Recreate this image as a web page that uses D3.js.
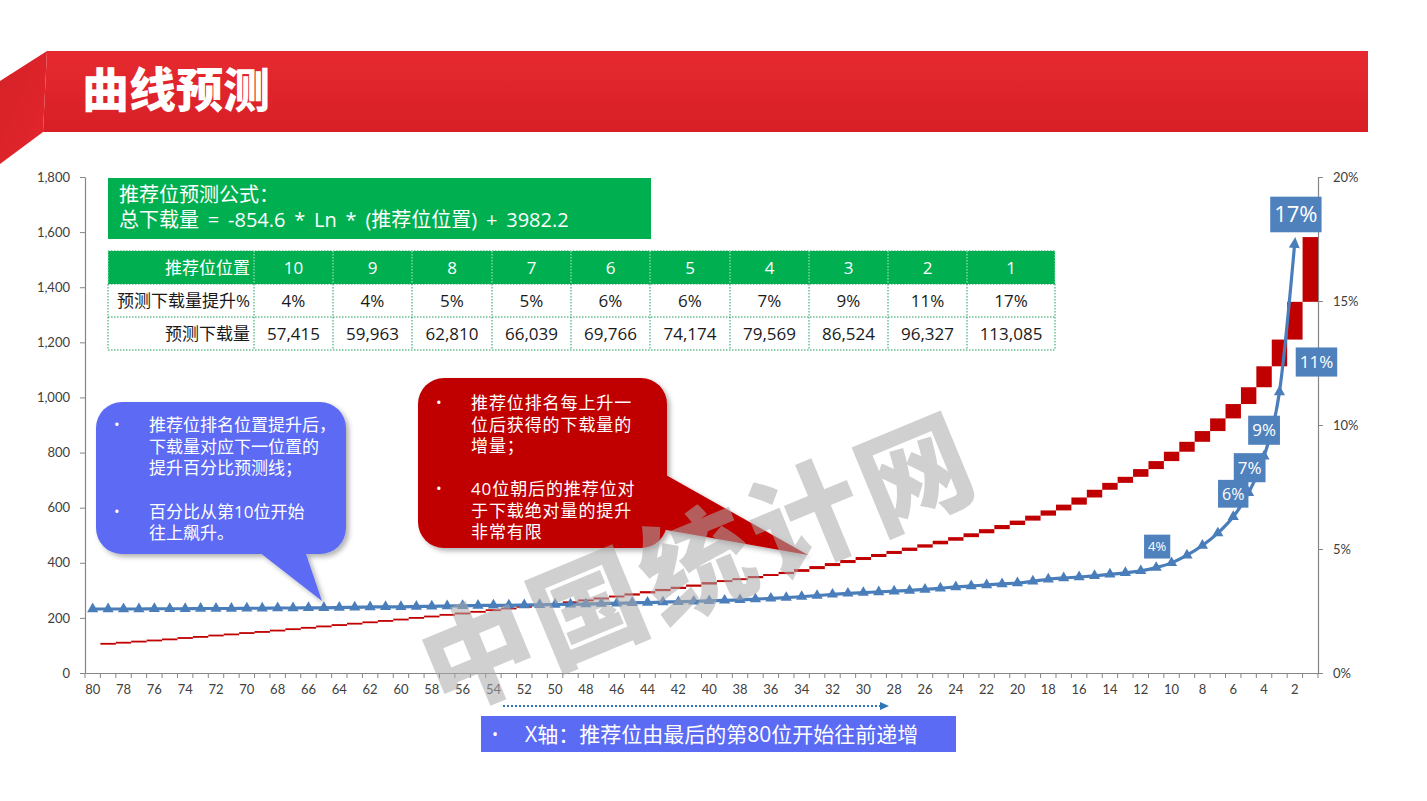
<!DOCTYPE html>
<html><head><meta charset="utf-8">
<script src="https://cdn.jsdelivr.net/npm/d3@7"></script>
<style>
html,body{margin:0;padding:0;background:#fff;}
svg{display:block;}
</style></head>
<body><svg id="c" width="1427" height="801"></svg>
<script>
// ---------------- data ----------------
const categories = [80,79,78,77,76,75,74,73,72,71,70,69,68,67,66,65,64,63,62,61,
  60,59,58,57,56,55,54,53,52,51,50,49,48,47,46,45,44,43,42,41,
  40,39,38,37,36,35,34,33,32,31,30,29,28,27,26,25,24,23,22,21,
  20,19,18,17,16,15,14,13,12,11,10,9,8,7,6,5,4,3,2,1];
// download level reached at each position (left axis), positions 80 -> 1
const downloadLevel = [102,106,110,114,118,122,127,131,136,140,
  145,149,154,159,164,169,174,179,184,189,
  194,200,205,211,216,222,228,234,240,246,
  253,260,267,274,281,289,297,305,313,321,
  330,337,344,352,359,367,377,388,399,410,
  421,432,443,455,467,480,493,507,522,537,
  553,571,590,611,637,665,690,712,740,769,
  803,839,878,924,976,1037,1113,1210,1347,1582];
const downloadStart = 102; // level before position 80 (no step shown at 80)
// lift % to the next position (right axis), positions 80 -> 2
const liftPct = [2.58,2.58,2.58,2.58,2.59,2.59,2.59,2.60,2.60,2.60,
  2.61,2.61,2.62,2.62,2.63,2.63,2.64,2.65,2.66,2.67,
  2.67,2.68,2.69,2.70,2.71,2.72,2.73,2.73,2.74,2.75,
  2.76,2.77,2.78,2.80,2.81,2.83,2.84,2.86,2.87,2.89,
  2.91,2.93,2.95,2.98,3.01,3.04,3.08,3.12,3.17,3.21,
  3.24,3.27,3.30,3.33,3.37,3.42,3.47,3.51,3.55,3.59,
  3.63,3.70,3.78,3.83,3.87,3.92,3.98,4.04,4.12,4.25,
  4.44,4.75,5.14,5.64,6.30,7.27,8.74,11.33,17.40];
const leftTicks = [0,200,400,600,800,1000,1200,1400,1600,1800];
const rightTicks = [0,0.05,0.10,0.15,0.20];
const xLabelCats = categories.filter(c => c % 2 === 0);

const tableHead = ["推荐位位置","10","9","8","7","6","5","4","3","2","1"];
const tableLiftLabel = "预测下载量提升%";
const tableLift = ["4%","4%","5%","5%","6%","6%","7%","9%","11%","17%"];
const tableDlLabel = "预测下载量";
const tableDownloads = [57415,59963,62810,66039,69766,74174,79569,86524,96327,113085];

const titleText = "曲线预测";
const formulaLines = ["推荐位预测公式：","总下载量 = -854.6 * Ln * (推荐位位置) + 3982.2"];
const blueNote = [["•","推荐位排名位置提升后，"],["","下载量对应下一位置的"],["","提升百分比预测线；"],["•","百分比从第10位开始"],["","往上飙升。"]];
const redNote = [["•","推荐位排名每上升一"],["","位后获得的下载量的"],["","增量；"],["•","40位朝后的推荐位对"],["","于下载绝对量的提升"],["","非常有限"]];
const xNote = "X轴：推荐位由最后的第80位开始往前递增";
const watermarkChars = ["中","国","统","计","网"];

// labelled points of the lift line (layout offsets only)
const liftLabels = [
  {cat:11, size:13, dx:1, dy:-21},
  {cat:6, size:16, dx:0, dy:-23},
  {cat:5, size:17, dx:1, dy:-25},
  {cat:4, size:17, dx:0, dy:-26},
  {cat:3, size:17, dx:37, dy:-30},
  {cat:2, size:22, dx:1, dy:-27}
];

// ---------------- setup ----------------
const FONT = "'Open Sans','Noto Sans CJK SC',sans-serif";
const CJK = "'Noto Sans CJK SC','Open Sans',sans-serif";
const AX = "Lato,'Open Sans',sans-serif";
const svg = d3.select("#c");
const defs = svg.append("defs");

const x = d3.scaleBand().domain(categories).range([85, 1318]).padding(0);
const yL = d3.scaleLinear().domain([0,1800]).range([673,177]);
const yR = d3.scaleLinear().domain([0,0.20]).range([673,177]);

const g1 = defs.append("linearGradient").attr("id","bn").attr("x1",0).attr("y1",0).attr("x2",0).attr("y2",1);
g1.append("stop").attr("offset","0%").attr("stop-color","#E62A30");
g1.append("stop").attr("offset","100%").attr("stop-color","#D81F26");
const g2 = defs.append("linearGradient").attr("id","bl").attr("x1",0).attr("y1",0).attr("x2",1).attr("y2",1);
g2.append("stop").attr("offset","0%").attr("stop-color","#D42127");
g2.append("stop").attr("offset","100%").attr("stop-color","#E4262D");
const f = defs.append("filter").attr("id","sh").attr("x","-10%").attr("y","-10%").attr("width","130%").attr("height","130%");
f.append("feDropShadow").attr("dx",3).attr("dy",3).attr("stdDeviation",2.5).attr("flood-color","#000").attr("flood-opacity",0.3);
defs.append("marker").attr("id","arr").attr("viewBox","0 0 10 10").attr("refX",6).attr("refY",5)
  .attr("markerWidth",11).attr("markerHeight",11).attr("markerUnits","userSpaceOnUse").attr("orient","auto")
  .append("path").attr("d","M0,0L10,5L0,10z").attr("fill","#4A7EBB");

// ---------------- banner ----------------
svg.append("polygon").attr("points","47,51 1368,51 1368,132 43,132").attr("fill","url(#bn)");
svg.append("polygon").attr("points","47,51 43,132 0,164 0,81").attr("fill","url(#bl)");
svg.append("text").attr("x",82).attr("y",107).text(titleText)
  .attr("font-family",CJK).attr("font-weight",900).attr("font-size",47).attr("fill","#fff");

// ---------------- axes ----------------
const axL = svg.append("g").attr("transform","translate(85,0)")
  .call(d3.axisLeft(yL).tickValues(leftTicks).tickFormat(d3.format(",")).tickSize(5).tickPadding(10).tickSizeOuter(0));
const axR = svg.append("g").attr("transform","translate(1318,0)")
  .call(d3.axisRight(yR).tickValues(rightTicks).tickFormat(d3.format(".0%")).tickSize(5).tickPadding(10).tickSizeOuter(0));
const axB = svg.append("g").attr("transform","translate(0,673)")
  .call(d3.axisBottom(x).tickValues(xLabelCats).tickSize(0).tickPadding(12).tickSizeOuter(0));
[axL,axR,axB].forEach(a => {
  a.select(".domain").attr("stroke","#868686").attr("stroke-width",1.2);
  a.selectAll(".tick line").attr("stroke","#868686");
  a.selectAll(".tick text").attr("font-family",AX).attr("font-size",13).attr("fill","#404040");
});
svg.append("g").selectAll("line").data(categories.map(c => x(c)).concat([x.range()[1]]))
  .join("line").attr("x1",d=>d).attr("x2",d=>d).attr("y1",673).attr("y2",678)
  .attr("stroke","#868686");

// ---------------- red step bars ----------------
const prevLevel = categories.map((c,i) => i === 0 ? downloadStart : downloadLevel[i-1]);
const stepIdx = categories.map((c,i) => i).filter(i => downloadLevel[i] > prevLevel[i]);
svg.append("g").selectAll("rect").data(stepIdx).join("rect")
  .attr("x", i => x(categories[i]))
  .attr("width", x.bandwidth())
  .attr("y", i => yL(downloadLevel[i]) - (yL(prevLevel[i]) - yL(downloadLevel[i]) < 1.8 ? 0.9 : 0))
  .attr("height", i => Math.max(1.8, yL(prevLevel[i]) - yL(downloadLevel[i])))
  .attr("fill","#C00000");

// ---------------- blue lift line ----------------
const liftData = liftPct.map((v,i) => ({cat: categories[i], v: v/100}));
const line = d3.line().x(d => x(d.cat) + x.bandwidth()/2).y(d => yR(d.v)).curve(d3.curveMonotoneX);
svg.append("path").datum(liftData).attr("d", line).attr("fill","none")
  .attr("stroke","#4A7EBB").attr("stroke-width",3.2).attr("marker-end","url(#arr)");
svg.append("g").selectAll("path").data(liftData.slice(0,-1)).join("path")
  .attr("d", d3.symbol(d3.symbolTriangle, 54))
  .attr("transform", d => `translate(${x(d.cat)+x.bandwidth()/2},${yR(d.v)})`)
  .attr("fill","#4A7EBB");

const fmtPct = d3.format(".0%");
liftLabels.forEach(l => {
  const d = liftData.find(p => p.cat === l.cat);
  const cx = x(d.cat) + x.bandwidth()/2 + l.dx, cy = yR(d.v) + l.dy;
  const g = svg.append("g");
  const r = g.append("rect").attr("fill","#4F81BD");
  const t = g.append("text").attr("x",cx).attr("y",cy).attr("dy","0.36em").attr("text-anchor","middle")
    .attr("font-family",FONT).attr("font-size",l.size).attr("fill","#fff").text(fmtPct(d.v));
  const w = t.node().getComputedTextLength() + 8, h = l.size*1.3 + 7;
  r.attr("x",cx-w/2).attr("y",cy-h/2).attr("width",w).attr("height",h);
});

// ---------------- formula box ----------------
svg.append("rect").attr("x",108).attr("y",178).attr("width",543).attr("height",61).attr("fill","#00B050");
svg.append("g").selectAll("text").data(formulaLines).join("text")
  .attr("x",119).attr("y",(d,i)=>202+i*25).text(d=>d)
  .attr("font-family",(d,i)=> i===0 ? CJK : FONT).attr("font-size",20).attr("word-spacing",(d,i)=> i===0 ? 0 : 3.6)
  .attr("fill","#fff");

// ---------------- table ----------------
const colX = [108,254,333,412,492,571,650,730,809,888,967,1055];
const rowY = [251,284,317,350];
const tg = svg.append("g");
tg.append("rect").attr("x",colX[0]).attr("y",rowY[0]).attr("width",colX[11]-colX[0]).attr("height",rowY[1]-rowY[0]).attr("fill","#00B050");
rowY.forEach(y => tg.append("line").attr("x1",colX[0]).attr("x2",colX[11]).attr("y1",y).attr("y2",y)
  .attr("stroke", "#1F9F5A").attr("stroke-width",1).attr("stroke-dasharray","1.5,1.5"));
colX.forEach(xx => {
  tg.append("line").attr("x1",xx).attr("x2",xx).attr("y1",rowY[0]).attr("y2",rowY[1])
    .attr("stroke","#bfe8cc").attr("stroke-width",1).attr("stroke-dasharray","1.5,1.5");
  tg.append("line").attr("x1",xx).attr("x2",xx).attr("y1",rowY[1]).attr("y2",rowY[3])
    .attr("stroke","#1F9F5A").attr("stroke-width",1).attr("stroke-dasharray","1.5,1.5");
});
const fmtN = d3.format(",");
const rows = [
  {cells: tableHead, fill:"#fff"},
  {cells: [tableLiftLabel].concat(tableLift), fill:"#1a1a1a"},
  {cells: [tableDlLabel].concat(tableDownloads.map(fmtN)), fill:"#1a1a1a"}
];
rows.forEach((r,ri) => {
  const cy = (rowY[ri]+rowY[ri+1])/2;
  r.cells.forEach((c,ci) => {
    tg.append("text").text(c)
      .attr("x", ci === 0 ? colX[1]-4 : (colX[ci]+colX[ci+1])/2)
      .attr("y", cy).attr("dy","0.36em")
      .attr("text-anchor", ci === 0 ? "end" : "middle")
      .attr("font-family",FONT).attr("font-size",17).attr("fill",r.fill);
  });
});

// ---------------- callouts ----------------
function callout(box, tail, color, lines, bx, tx, y0, gaps, fs, ls) {
  const g = svg.append("g").attr("filter","url(#sh)");
  g.append("rect").attr("x",box[0]).attr("y",box[1]).attr("width",box[2]).attr("height",box[3])
    .attr("rx",26).attr("fill",color);
  g.append("polygon").attr("points",tail.map(p=>p.join(",")).join(" ")).attr("fill",color);
  const tg2 = svg.append("g");
  let y = y0;
  lines.forEach((l,i) => {
    if (i>0) y += gaps[i-1];
    if (l[0]) tg2.append("text").attr("x",bx).attr("y",y).attr("dy","0.36em").text(l[0])
      .attr("font-family",FONT).attr("font-size",15).attr("fill","#fff");
    tg2.append("text").attr("x",tx).attr("y",y).attr("dy","0.36em").text(l[1])
      .attr("font-family",FONT).attr("font-size",fs).attr("letter-spacing",ls).attr("fill","#fff");
  });
}
callout([96,402,250,152], [[250,545],[303,545],[322,601]], "#5B6BF4", blueNote, 114, 149, 425, [21.5,21.5,43.5,21.5], 17, 0);
callout([418,378,249,170], [[650,466],[655,528],[808,555]], "#C00000", redNote, 436, 471, 403, [21.5,21.5,43,21.5,21.5], 17, 0.9);

// ---------------- x-axis note ----------------
svg.append("line").attr("x1",503).attr("x2",881).attr("y1",706).attr("y2",706)
  .attr("stroke","#2E75B6").attr("stroke-width",2).attr("stroke-dasharray","2,2");
svg.append("polygon").attr("points","880,702 889,706 880,710").attr("fill","#2E75B6");
svg.append("rect").attr("x",481).attr("y",716).attr("width",475).attr("height",36).attr("fill","#5B6BF4");
svg.append("text").attr("x",492).attr("y",734).attr("dy","0.36em").text("•")
  .attr("font-family",FONT).attr("font-size",16).attr("fill","#fff");
svg.append("text").attr("x",525).attr("y",734).attr("dy","0.36em").text(xNote)
  .attr("font-family",FONT).attr("font-size",21).attr("fill","#fff");

// ---------------- watermark (one glyph per element, along a slanted line) ----------------
const wmAngle = -22.5, wmStep = 118, wmCx = 697, wmCy = 565;
const wmRad = wmAngle * Math.PI / 180;
svg.append("g").style("pointer-events","none").selectAll("text").data(watermarkChars).join("text")
  .attr("transform", (c,i) => {
    const k = i - (watermarkChars.length-1)/2;
    return `translate(${wmCx + k*wmStep*Math.cos(wmRad)},${wmCy + k*wmStep*Math.sin(wmRad)}) rotate(${wmAngle})`;
  })
  .attr("text-anchor","middle").attr("dy","0.36em").text(c => c)
  .attr("font-family",CJK).attr("font-weight",900).attr("font-size",112)
  .attr("fill","#aaaaaa").attr("opacity",0.55);
</script>
</body></html>
